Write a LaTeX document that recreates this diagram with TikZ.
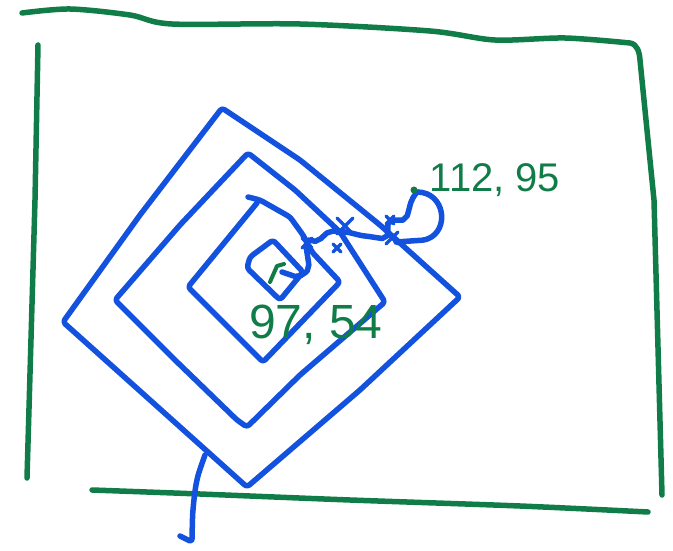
\documentclass[tikz,border=0pt]{standalone}
\usepackage{fontspec}
\setmainfont{Liberation Sans}
\definecolor{penblue}{RGB}{18,82,222}
\definecolor{pengreen}{RGB}{16,124,72}
\usetikzlibrary{calc}
\newcommand{\crossmark}[2][5]{%
  \draw[bluepen,line width=3.5pt] ($(#2)+(-#1,-#1)$) -- ($(#2)+(#1,#1)$)
    ($(#2)+(-#1,#1)$) -- ($(#2)+(#1,-#1)$);}

\begin{document}
\begin{tikzpicture}[x=1pt,y=-1pt,
    greenpen/.style={draw=pengreen, line width=5.5pt, line cap=round, line join=round},
    bluepen/.style={draw=penblue, line width=5.5pt, line cap=round, line join=round, rounded corners=3pt},
    coords/.style={text=pengreen, inner sep=0pt}]
  \useasboundingbox (0,0) rectangle (673,551);

  % frame
  \draw[greenpen] plot[smooth] coordinates {(22,13) (70,9) (130,15) (172,24) (300,24)
    (430,31) (495,40) (565,38) (630,43)}
    to[out=-10,in=95] (640,60) -- (654,200) -- (662,495);
  \draw[greenpen] (38,45) -- (35,200) -- (27,478);
  \draw[greenpen] plot[smooth] coordinates {(92,490) (200,494) (350,500) (520,506) (648,512)};

  % nested squares
  \draw[bluepen] (222,108) -- (300,160) -- (380,225) -- (460,297) -- (360,390)
    -- (247,487) -- (150,400) -- (63,322) -- (140,215) -- cycle;
  \draw[bluepen] (248,153) -- (295,190) -- (340,232) -- (385,302) -- (300,375)
    -- (247,427) -- (237,420) -- (175,360) -- (115,300) -- (180,225) -- cycle;
  \draw[bluepen] (248,197) -- (260,200) -- (290,217) -- (303,235) -- (312,252)
    -- (340,282) -- (263,362) -- (188,287) -- (257,203);
  \draw[bluepen] (250,257) -- (273,240) -- (303,272) -- (280,300) -- (247,268) -- cycle;
  \draw[greenpen, line width=4pt] (270,282) -- (277,266) -- (284,264);

  % route
  \draw[bluepen] plot[smooth, tension=0.4] coordinates {(282,272) (298,276) (308,268) (307,243)
    (318,240) (330,232) (345,232) (365,236) (385,237) (390,222) (405,218) (412,200) (417,192)};
  \draw[bluepen] (417,192) .. controls (445,192) and (450,230) .. (425,240) -- (396,242);
  \fill[pengreen] (414,190) circle (3.5pt);
  \crossmark{307,243}
  \crossmark[4]{337,248}
  \crossmark[8]{345,226}
  \crossmark[6]{392,238}
  \crossmark[4]{390,220}

  % lead
  \draw[bluepen] plot[smooth, tension=0.5] coordinates {(205,455) (197,480) (193,510) (192,542)}
    -- (180,536);

  % labels
  \node[coords, font=\fontsize{40}{40}\selectfont] (outer) at (495,180) {112, 95};
  \node[coords, font=\fontsize{48}{48}\selectfont] (inner) at (316,325) {97, 54};
\end{tikzpicture}
\end{document}
